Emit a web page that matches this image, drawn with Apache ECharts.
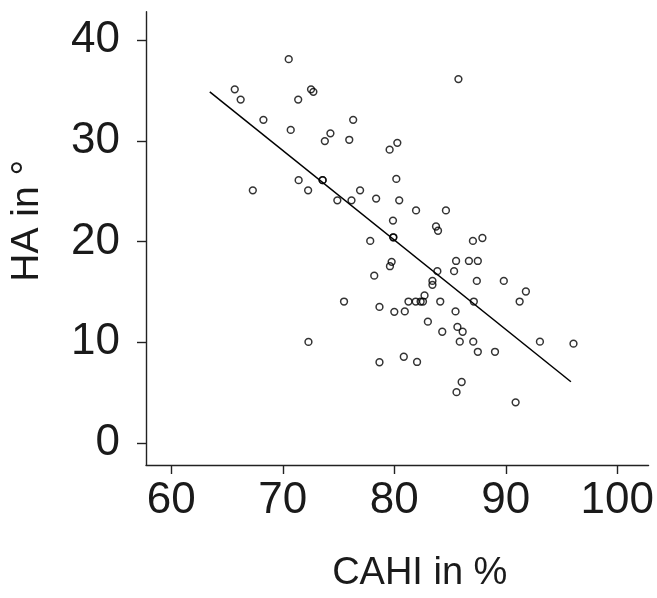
<!DOCTYPE html>
<html>
<head>
<meta charset="utf-8">
<script src="https://cdn.jsdelivr.net/npm/echarts@6/dist/echarts.min.js"></script>
<style>
html,body{margin:0;padding:0;background:#fff;}
#c{width:657px;height:598px;}
</style>
</head>
<body>
<div id="c"></div>
<script>
// CAHI in % (x) and HA in degrees (y)
var cahi = [70.53,65.69,66.22,72.53,72.74,71.38,68.26,76.31,70.71,74.27,73.77,75.96,79.58,80.27,71.42,73.57,73.57,67.31,72.27,74.89,76.16,76.93,78.37,80.18,79.88,79.91,79.91,80.44,81.95,84.63,83.74,83.92,85.75,87.90,87.05,85.54,86.69,87.49,85.36,83.86,79.76,79.61,77.84,78.20,75.49,78.67,80.00,72.30,78.67,80.94,81.27,81.92,82.36,82.57,82.71,83.42,83.42,84.12,83.01,85.49,84.30,85.66,86.13,85.87,87.08,87.49,89.03,87.40,87.13,89.82,91.24,91.80,93.06,96.07,80.85,82.04,86.04,85.58,90.88];
var ha   = [38.12,35.12,34.10,35.12,34.87,34.10,32.09,32.09,31.09,30.75,29.98,30.11,29.13,29.81,26.10,26.10,26.10,25.09,25.09,24.10,24.10,25.09,24.27,26.23,22.09,20.43,20.43,24.10,23.10,23.10,21.50,21.08,36.14,20.36,20.07,18.08,18.08,18.08,17.07,17.07,17.99,17.56,20.07,16.62,14.05,13.52,13.03,10.04,8.02,13.07,14.05,14.05,14.05,14.05,14.66,16.10,15.71,14.05,12.05,13.07,11.05,11.53,11.05,10.07,10.07,9.06,9.06,16.10,14.05,16.10,14.05,15.05,10.07,9.87,8.57,8.05,6.06,5.05,4.04];
// regression line end points
var fitX = [63.45, 95.84];
var fitY = [34.87, 6.09];
var xTicks = [60, 70, 80, 90, 100];
var yTicks = [0, 10, 20, 30, 40];

var pts = cahi.map(function(x, i){ return [x, ha[i]]; });
var fit = fitX.map(function(x, i){ return [x, fitY[i]]; });

var FONT = '"Liberation Sans", Arial, Helvetica, sans-serif';
var TXT = '#1a1a1a';
var AX = '#222';

var chart = echarts.init(document.getElementById('c'), null, {renderer: 'canvas'});
chart.setOption({
  animation: false,
  backgroundColor: '#fff',
  grid: {left: 145.7, right: 2, top: 11.7, bottom: 125.7, containLabel: false},
  xAxis: {
    type: 'value', min: 57.73, max: 102.8,
    name: 'CAHI in %', nameLocation: 'middle', nameGap: 90,
    nameTextStyle: {fontFamily: FONT, fontSize: 38, color: TXT, padding: [0, 0, 0, 45]},
    axisLine: {show: true, onZero: false, lineStyle: {color: AX, width: 1.4}},
    axisTick: {show: true, inside: false, length: 9, customValues: xTicks, lineStyle: {color: AX, width: 1.4}},
    axisLabel: {customValues: xTicks, margin: 14, fontFamily: FONT, fontSize: 44, color: TXT},
    splitLine: {show: false}
  },
  yAxis: {
    type: 'value', min: -2.18, max: 42.83,
    name: 'HA in °', nameLocation: 'middle', nameGap: 99,
    nameTextStyle: {fontFamily: FONT, fontSize: 39, color: TXT, padding: [0, 0, 0, 35]},
    axisLine: {show: true, onZero: false, lineStyle: {color: AX, width: 1.4}},
    axisTick: {show: true, inside: false, length: 9, customValues: yTicks, lineStyle: {color: AX, width: 1.4}},
    axisLabel: {customValues: yTicks, margin: 26, fontFamily: FONT, fontSize: 44, color: TXT},
    splitLine: {show: false}
  },
  series: [
    {
      type: 'scatter', data: pts, symbol: 'circle', symbolSize: 6.8,
      itemStyle: {color: 'rgba(0,0,0,0)', borderColor: '#000', borderWidth: 1.5}
    },
    {
      type: 'line', data: fit, symbol: 'none', silent: true,
      lineStyle: {color: '#000', width: 1.5}
    }
  ]
});
</script>
</body>
</html>
